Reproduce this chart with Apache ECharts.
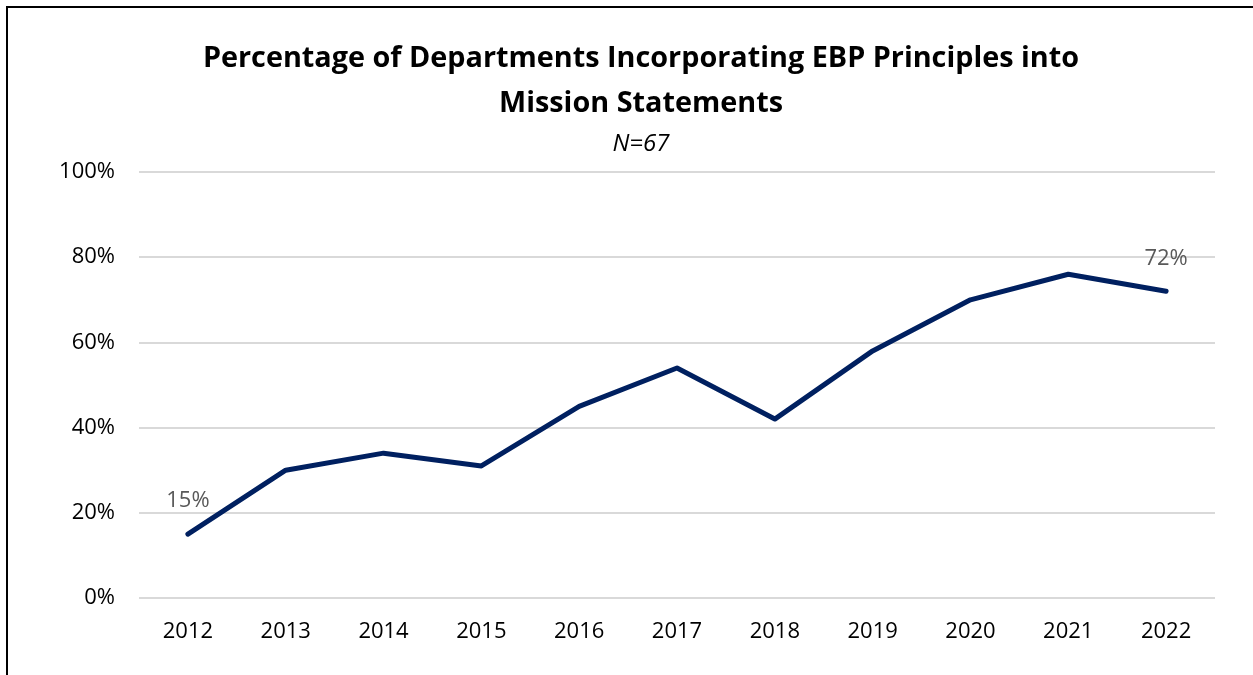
<!DOCTYPE html>
<html>
<head>
<meta charset="utf-8">
<script src="https://cdn.jsdelivr.net/npm/echarts@6/dist/echarts.min.js"></script>
<style>
  html, body { margin: 0; padding: 0; background: #fff; }
  #chart { width: 1253px; height: 675px; }
</style>
</head>
<body>
<div id="chart"></div>
<script>
const years = ["2012", "2013", "2014", "2015", "2016", "2017", "2018", "2019", "2020", "2021", "2022"];
const pctValues = [15, 30, 34, 31, 45, 54, 42, 58, 70, 76, 72];
const labelYears = ["2012", "2022"];

const font = "'Open Sans', 'Noto Sans', sans-serif";
const myChart = echarts.init(document.getElementById("chart"));

const option = {
  animation: false,
  backgroundColor: "#fff",
  textStyle: { fontFamily: font },
  title: [
    {
      text: "Percentage of Departments Incorporating EBP Principles into\nMission Statements",
      left: 636,
      top: 31,
      textAlign: "center",
      textStyle: {
        fontFamily: font,
        fontSize: 28.8,
        fontWeight: "bold",
        color: "#000",
        lineHeight: 45,
      },
    },
    {
      text: "N=67",
      left: 636,
      top: 127,
      textAlign: "center",
      textStyle: {
        fontFamily: font,
        fontSize: 24,
        fontStyle: "italic",
        fontWeight: "normal",
        color: "#000",
      },
    },
  ],
  graphic: [
    {
      type: "rect",
      shape: { x: 7, y: 7, width: 1300, height: 720 },
      style: { fill: "none", stroke: "#000", lineWidth: 2 },
      silent: true,
    },
  ],
  grid: { left: 139, right: 38, top: 172, bottom: 77 },
  xAxis: {
    type: "category",
    data: years,
    boundaryGap: true,
    axisLine: { show: false },
    axisTick: { show: false },
    axisLabel: { color: "#000", fontSize: 22, fontFamily: font, margin: 23 },
  },
  yAxis: {
    type: "value",
    min: 0,
    max: 100,
    interval: 20,
    axisLine: { show: false },
    axisTick: { show: false },
    axisLabel: {
      color: "#000",
      fontSize: 22,
      fontFamily: font,
      margin: 24,
      formatter: "{value}%",
    },
    splitLine: { lineStyle: { color: "#d9d9d9", width: 2 } },
  },
  series: [
    {
      type: "line",
      data: pctValues.map((v, i) => ({
        value: v,
        label: { show: labelYears.includes(years[i]) },
      })),
      symbol: "circle",
      symbolSize: 0,
      showSymbol: true,
      itemStyle: { color: "#002060" },
      lineStyle: { color: "#002060", width: 5, cap: "round", join: "round" },
      label: {
        show: false,
        position: "top",
        distance: 22,
        color: "#595959",
        fontSize: 22,
        fontFamily: font,
        formatter: "{c}%",
      },
    },
  ],
};

myChart.setOption(option);
</script>
</body>
</html>
